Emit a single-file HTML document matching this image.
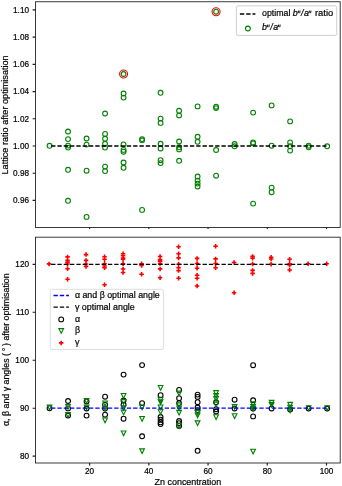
<!DOCTYPE html><html><head><meta charset="utf-8"><style>html,body{margin:0;padding:0;background:#fff;width:342px;height:486px;overflow:hidden}</style></head><body><svg width="342" height="486" viewBox="0 0 342 486" style="display:block;will-change:transform">
<rect width="342" height="486" fill="#fff"/>
<g fill="none" stroke="#008000" stroke-width="1.1"><circle cx="49.55" cy="145.8" r="2.4"/><circle cx="68.05" cy="131.5" r="2.4"/><circle cx="68.05" cy="139.1" r="2.4"/><circle cx="68.05" cy="145.6" r="2.4"/><circle cx="68.05" cy="147.6" r="2.4"/><circle cx="68.05" cy="169.8" r="2.4"/><circle cx="68.05" cy="200.8" r="2.4"/><circle cx="86.56" cy="138.5" r="2.4"/><circle cx="86.56" cy="144.6" r="2.4"/><circle cx="86.56" cy="170.7" r="2.4"/><circle cx="86.56" cy="216.9" r="2.4"/><circle cx="105.06" cy="113.5" r="2.4"/><circle cx="105.06" cy="133.9" r="2.4"/><circle cx="105.06" cy="138.8" r="2.4"/><circle cx="105.06" cy="143.8" r="2.4"/><circle cx="105.06" cy="147.6" r="2.4"/><circle cx="105.06" cy="166.6" r="2.4"/><circle cx="105.06" cy="171.1" r="2.4"/><circle cx="123.57" cy="74" r="2.4"/><circle cx="123.57" cy="93.5" r="2.4"/><circle cx="123.57" cy="97.6" r="2.4"/><circle cx="123.57" cy="144.4" r="2.4"/><circle cx="123.57" cy="149.9" r="2.4"/><circle cx="123.57" cy="151.7" r="2.4"/><circle cx="123.57" cy="162.5" r="2.4"/><circle cx="123.57" cy="167.8" r="2.4"/><circle cx="142.08" cy="139.1" r="2.4"/><circle cx="142.08" cy="140.3" r="2.4"/><circle cx="142.08" cy="209.9" r="2.4"/><circle cx="160.58" cy="92.8" r="2.4"/><circle cx="160.58" cy="118.6" r="2.4"/><circle cx="160.58" cy="122.9" r="2.4"/><circle cx="160.58" cy="143.8" r="2.4"/><circle cx="160.58" cy="148.5" r="2.4"/><circle cx="160.58" cy="160.2" r="2.4"/><circle cx="160.58" cy="163.1" r="2.4"/><circle cx="179.09" cy="110.8" r="2.4"/><circle cx="179.09" cy="115.4" r="2.4"/><circle cx="179.09" cy="141.5" r="2.4"/><circle cx="179.09" cy="147.3" r="2.4"/><circle cx="179.09" cy="149.4" r="2.4"/><circle cx="179.09" cy="160.8" r="2.4"/><circle cx="197.6" cy="106.4" r="2.4"/><circle cx="197.6" cy="136.8" r="2.4"/><circle cx="197.6" cy="141.8" r="2.4"/><circle cx="197.6" cy="176.5" r="2.4"/><circle cx="197.6" cy="180.6" r="2.4"/><circle cx="197.6" cy="183.6" r="2.4"/><circle cx="197.6" cy="186.5" r="2.4"/><circle cx="216.1" cy="11.7" r="2.4"/><circle cx="216.1" cy="106.7" r="2.4"/><circle cx="216.1" cy="108.1" r="2.4"/><circle cx="216.1" cy="150" r="2.4"/><circle cx="216.1" cy="175.7" r="2.4"/><circle cx="234.61" cy="144" r="2.4"/><circle cx="234.61" cy="146.3" r="2.4"/><circle cx="253.11" cy="112.6" r="2.4"/><circle cx="253.11" cy="142.4" r="2.4"/><circle cx="253.11" cy="143.4" r="2.4"/><circle cx="253.11" cy="203.6" r="2.4"/><circle cx="271.62" cy="105.4" r="2.4"/><circle cx="271.62" cy="145.7" r="2.4"/><circle cx="271.62" cy="187.6" r="2.4"/><circle cx="271.62" cy="192.2" r="2.4"/><circle cx="290.13" cy="121.4" r="2.4"/><circle cx="290.13" cy="142.4" r="2.4"/><circle cx="290.13" cy="146.3" r="2.4"/><circle cx="290.13" cy="150.6" r="2.4"/><circle cx="308.63" cy="145.7" r="2.4"/><circle cx="308.63" cy="147.3" r="2.4"/><circle cx="327.14" cy="146.3" r="2.4"/></g>
<g fill="none" stroke="#ff0000" stroke-width="1.1"><circle cx="123.57" cy="74" r="4.0"/><circle cx="216.1" cy="11.7" r="4.0"/></g>
<line x1="48.9" y1="146" x2="326.49" y2="146" stroke="#000" stroke-width="1.3" stroke-dasharray="4.35 1.96" stroke-dashoffset="-2.2"/>
<g fill="none" stroke="#000" stroke-width="1.1"><circle cx="49.55" cy="408.2" r="2.4"/><circle cx="68.05" cy="401" r="2.4"/><circle cx="68.05" cy="408.4" r="2.4"/><circle cx="68.05" cy="415.5" r="2.4"/><circle cx="86.56" cy="401.4" r="2.4"/><circle cx="86.56" cy="408.5" r="2.4"/><circle cx="86.56" cy="415.6" r="2.4"/><circle cx="105.06" cy="396.7" r="2.4"/><circle cx="105.06" cy="404.6" r="2.4"/><circle cx="105.06" cy="408.6" r="2.4"/><circle cx="105.06" cy="414.7" r="2.4"/><circle cx="123.57" cy="374.6" r="2.4"/><circle cx="123.57" cy="400.5" r="2.4"/><circle cx="123.57" cy="404.6" r="2.4"/><circle cx="123.57" cy="418.7" r="2.4"/><circle cx="142.08" cy="365.1" r="2.4"/><circle cx="142.08" cy="403.1" r="2.4"/><circle cx="142.08" cy="436.3" r="2.4"/><circle cx="160.58" cy="395.2" r="2.4"/><circle cx="160.58" cy="417" r="2.4"/><circle cx="160.58" cy="419.7" r="2.4"/><circle cx="160.58" cy="422.3" r="2.4"/><circle cx="160.58" cy="424.1" r="2.4"/><circle cx="179.09" cy="389.9" r="2.4"/><circle cx="179.09" cy="398.2" r="2.4"/><circle cx="179.09" cy="403.1" r="2.4"/><circle cx="179.09" cy="421" r="2.4"/><circle cx="179.09" cy="423.2" r="2.4"/><circle cx="179.09" cy="425.9" r="2.4"/><circle cx="197.6" cy="394.6" r="2.4"/><circle cx="197.6" cy="396.9" r="2.4"/><circle cx="197.6" cy="402.2" r="2.4"/><circle cx="197.6" cy="407.5" r="2.4"/><circle cx="197.6" cy="410.1" r="2.4"/><circle cx="197.6" cy="450.8" r="2.4"/><circle cx="216.1" cy="402.2" r="2.4"/><circle cx="216.1" cy="409.2" r="2.4"/><circle cx="216.1" cy="411.5" r="2.4"/><circle cx="234.61" cy="399.7" r="2.4"/><circle cx="234.61" cy="408.5" r="2.4"/><circle cx="253.11" cy="365.2" r="2.4"/><circle cx="253.11" cy="400.3" r="2.4"/><circle cx="253.11" cy="408.5" r="2.4"/><circle cx="253.11" cy="416.4" r="2.4"/><circle cx="271.62" cy="408.5" r="2.4"/><circle cx="290.13" cy="409.5" r="2.4"/><circle cx="308.63" cy="408.5" r="2.4"/><circle cx="327.14" cy="408.5" r="2.4"/></g>
<path fill="none" stroke="#008000" stroke-width="1.1" stroke-linejoin="miter" d="M47.2 405.15H51.9L49.55 409.85ZM65.7 404.65H70.4L68.05 409.35ZM65.7 412.65H70.4L68.05 417.35ZM84.21 398.65H88.91L86.56 403.35ZM84.21 405.15H88.91L86.56 409.85ZM102.72 401.05H107.41L105.06 405.75ZM102.72 406.25H107.41L105.06 410.95ZM102.72 418.05H107.41L105.06 422.75ZM121.22 393.55H125.92L123.57 398.25ZM121.22 399.65H125.92L123.57 404.35ZM121.22 405.85H125.92L123.57 410.55ZM121.22 410.15H125.92L123.57 414.85ZM121.22 431.05H125.92L123.57 435.75ZM139.73 404.95H144.43L142.08 409.65ZM139.73 416.45H144.43L142.08 421.15ZM139.73 448.85H144.43L142.08 453.55ZM158.23 385.55H162.93L160.58 390.25ZM158.23 397.25H162.93L160.58 401.95ZM158.23 399.85H162.93L160.58 404.55ZM158.23 405.05H162.93L160.58 409.75ZM158.23 409.45H162.93L160.58 414.15ZM176.74 391.05H181.44L179.09 395.75ZM176.74 402.85H181.44L179.09 407.55ZM176.74 405.95H181.44L179.09 410.65ZM176.74 410.35H181.44L179.09 415.05ZM176.74 423.55H181.44L179.09 428.25ZM195.25 410.35H199.95L197.6 415.05ZM195.25 413.05H199.95L197.6 417.75ZM195.25 420.85H199.95L197.6 425.55ZM213.75 390.65H218.45L216.1 395.35ZM213.75 393.65H218.45L216.1 398.35ZM213.75 396.65H218.45L216.1 401.35ZM213.75 402.15H218.45L216.1 406.85ZM213.75 414.75H218.45L216.1 419.45ZM232.26 404.45H236.96L234.61 409.15ZM232.26 413.75H236.96L234.61 418.45ZM250.76 401.75H255.46L253.11 406.45ZM250.76 404.45H255.46L253.11 409.15ZM250.76 406.65H255.46L253.11 411.35ZM250.76 449.25H255.46L253.11 453.95ZM269.27 400.35H273.97L271.62 405.05ZM269.27 402.65H273.97L271.62 407.35ZM287.78 402.35H292.48L290.13 407.05ZM287.78 405.25H292.48L290.13 409.95ZM287.78 408.05H292.48L290.13 412.75ZM306.28 405.75H310.98L308.63 410.45ZM324.79 405.75H329.49L327.14 410.45Z"/>
<path fill="none" stroke="#ff0000" stroke-width="1.6" d="M46.8 263.9H51.3M49.05 261.65V266.15M65.3 256.9H69.8M67.55 254.65V259.15M65.3 260.4H69.8M67.55 258.15V262.65M65.3 262.2H69.8M67.55 259.95V264.45M65.3 264H69.8M67.55 261.75V266.25M65.3 268.7H69.8M67.55 266.45V270.95M65.3 279.2H69.8M67.55 276.95V281.45M83.81 254.6H88.31M86.06 252.35V256.85M83.81 260.4H88.31M86.06 258.15V262.65M83.81 264H88.31M86.06 261.75V266.25M83.81 266.4H88.31M86.06 264.15V268.65M102.31 256.7H106.81M104.56 254.45V258.95M102.31 259.3H106.81M104.56 257.05V261.55M102.31 263.7H106.81M104.56 261.45V265.95M102.31 266H106.81M104.56 263.75V268.25M102.31 267.7H106.81M104.56 265.45V269.95M102.31 284.7H106.81M104.56 282.45V286.95M120.82 253.7H125.32M123.07 251.45V255.95M120.82 255.8H125.32M123.07 253.55V258.05M120.82 258H125.32M123.07 255.75V260.25M120.82 259.3H125.32M123.07 257.05V261.55M120.82 263.7H125.32M123.07 261.45V265.95M120.82 269H125.32M123.07 266.75V271.25M120.82 272.5H125.32M123.07 270.25V274.75M139.33 263.7H143.83M141.58 261.45V265.95M139.33 265.4H143.83M141.58 263.15V267.65M139.33 274.2H143.83M141.58 271.95V276.45M157.83 256.5H162.33M160.08 254.25V258.75M157.83 259.6H162.33M160.08 257.35V261.85M157.83 261.2H162.33M160.08 258.95V263.45M157.83 263.5H162.33M160.08 261.25V265.75M157.83 268.9H162.33M160.08 266.65V271.15M157.83 277.8H162.33M160.08 275.55V280.05M176.34 246.7H180.84M178.59 244.45V248.95M176.34 253.7H180.84M178.59 251.45V255.95M176.34 257.9H180.84M178.59 255.65V260.15M176.34 264.2H180.84M178.59 261.95V266.45M176.34 267.7H180.84M178.59 265.45V269.95M176.34 270.6H180.84M178.59 268.35V272.85M176.34 278.3H180.84M178.59 276.05V280.55M194.85 258.4H199.35M197.1 256.15V260.65M194.85 263.5H199.35M197.1 261.25V265.75M194.85 268.2H199.35M197.1 265.95V270.45M194.85 275.2H199.35M197.1 272.95V277.45M194.85 278.3H199.35M197.1 276.05V280.55M194.85 286H199.35M197.1 283.75V288.25M213.35 246.2H217.85M215.6 243.95V248.45M213.35 258.9H217.85M215.6 256.65V261.15M213.35 263.5H217.85M215.6 261.25V265.75M213.35 267.7H217.85M215.6 265.45V269.95M231.86 262.5H236.36M234.11 260.25V264.75M231.86 292.7H236.36M234.11 290.45V294.95M250.36 256.4H254.86M252.61 254.15V258.65M250.36 258.2H254.86M252.61 255.95V260.45M250.36 264H254.86M252.61 261.75V266.25M250.36 270.4H254.86M252.61 268.15V272.65M250.36 273.4H254.86M252.61 271.15V275.65M268.87 257.3H273.37M271.12 255.05V259.55M268.87 259H273.37M271.12 256.75V261.25M268.87 264.3H273.37M271.12 262.05V266.55M287.38 259.3H291.88M289.63 257.05V261.55M287.38 263.75H291.88M289.63 261.5V266M287.38 265H291.88M289.63 262.75V267.25M287.38 270H291.88M289.63 267.75V272.25M305.88 263.75H310.38M308.13 261.5V266M324.39 263.75H328.89M326.64 261.5V266"/>
<line x1="48.9" y1="264.3" x2="326.49" y2="264.3" stroke="#000" stroke-width="1.3" stroke-dasharray="4.35 1.96" stroke-dashoffset="-2.2"/>
<line x1="48.9" y1="408.2" x2="326.49" y2="408.2" stroke="#0000ff" stroke-width="1.3" stroke-dasharray="4.35 1.96" stroke-dashoffset="-2.2"/>
<g fill="none" stroke="#262626" stroke-width="0.9">
<rect x="35.5" y="1.75" width="304.7" height="225.75"/>
<rect x="35.5" y="237.2" width="304.7" height="225.8"/>
</g>
<path d="M89.61 227.5v1.4M89.61 463.0v2.6M148.83 227.5v1.4M148.83 463.0v2.6M208.05 227.5v1.4M208.05 463.0v2.6M267.27 227.5v1.4M267.27 463.0v2.6M326.49 227.5v1.4M326.49 463.0v2.6M35.5 200.44h-2.9M35.5 173.22h-2.9M35.5 146h-2.9M35.5 118.78h-2.9M35.5 91.56h-2.9M35.5 64.34h-2.9M35.5 37.12h-2.9M35.5 9.9h-2.9M35.5 456.18h-2.9M35.5 408.21h-2.9M35.5 360.24h-2.9M35.5 312.27h-2.9M35.5 264.3h-2.9" stroke="#1a1a1a" stroke-width="1.15" fill="none"/>
<g font-family='"Liberation Sans", sans-serif' font-size="8.2" fill="#000" stroke="#000" stroke-width="0.2"><text x="29.0" y="203.34" text-anchor="end">0.96</text><text x="29.0" y="176.12" text-anchor="end">0.98</text><text x="29.0" y="148.9" text-anchor="end">1.00</text><text x="29.0" y="121.68" text-anchor="end">1.02</text><text x="29.0" y="94.46" text-anchor="end">1.04</text><text x="29.0" y="67.24" text-anchor="end">1.06</text><text x="29.0" y="40.02" text-anchor="end">1.08</text><text x="29.0" y="12.8" text-anchor="end">1.10</text><text x="29.0" y="459.08" text-anchor="end">80</text><text x="29.0" y="411.11" text-anchor="end">90</text><text x="29.0" y="363.14" text-anchor="end">100</text><text x="29.0" y="315.17" text-anchor="end">110</text><text x="29.0" y="267.2" text-anchor="end">120</text><text x="89.61" y="474" text-anchor="middle">20</text><text x="148.83" y="474" text-anchor="middle">40</text><text x="208.05" y="474" text-anchor="middle">60</text><text x="267.27" y="474" text-anchor="middle">80</text><text x="326.49" y="474" text-anchor="middle">100</text></g>
<g font-family='"Liberation Sans", sans-serif' font-size="8.9" fill="#000" stroke="#000" stroke-width="0.2">
<text x="187.85" y="484.9" text-anchor="middle" textLength="66.6" lengthAdjust="spacingAndGlyphs">Zn concentration</text>
<text transform="translate(7.6 114.9) rotate(-90)" text-anchor="middle" textLength="119.2" lengthAdjust="spacingAndGlyphs">Lattice ratio after optimisation</text>
<text transform="translate(8.9 349.7) rotate(-90)" text-anchor="middle" textLength="152.8" lengthAdjust="spacingAndGlyphs">α, β and γ angles ( ° ) after optimisation</text>
</g>
<rect x="236.4" y="5.8" width="100.3" height="29.6" rx="1.6" fill="#fff" fill-opacity="0.8" stroke="#cacaca" stroke-width="0.9"/>
<line x1="239.9" y1="14" x2="255.4" y2="14" stroke="#000" stroke-width="1.3" stroke-dasharray="4.35 1.96"/>
<circle cx="247.9" cy="28.5" r="2.4" fill="none" stroke="#008000" stroke-width="1.1"/>
<g font-family='"Liberation Sans", sans-serif' font-size="8.9" fill="#000" stroke="#000" stroke-width="0.2">
<text x="262.0" y="15.6" textLength="28.4" lengthAdjust="spacingAndGlyphs">optimal</text>
<text x="292.7" y="15.6" font-style="italic">b</text><path d="M298.55 10.6L298.1 13.2M300.1 10.6L299.65 13.2" stroke-width="0.95" fill="none"/><text x="301.1" y="15.6" font-style="italic">/</text><text x="304" y="15.6" font-style="italic">a</text><path d="M309.45 10.6L309 13.2M311 10.6L310.55 13.2" stroke-width="0.95" fill="none"/>
<text x="315.0" y="15.6" textLength="18.2" lengthAdjust="spacingAndGlyphs">ratio</text>
<text x="261.9" y="29.6" font-style="italic">b</text><path d="M267.75 24.6L267.3 27.2M269.3 24.6L268.85 27.2" stroke-width="0.95" fill="none"/><text x="270.3" y="29.6" font-style="italic">/</text><text x="273.2" y="29.6" font-style="italic">a</text><path d="M278.65 24.6L278.2 27.2M280.2 24.6L279.75 27.2" stroke-width="0.95" fill="none"/>
</g>
<rect x="50.3" y="289.3" width="113.1" height="60.2" rx="1.6" fill="#fff" fill-opacity="0.8" stroke="#d6d6d6" stroke-width="0.8"/>
<line x1="53.5" y1="295.5" x2="68.9" y2="295.5" stroke="#0000ff" stroke-width="1.3" stroke-dasharray="4.35 1.96"/>
<line x1="53.5" y1="307.1" x2="68.9" y2="307.1" stroke="#000" stroke-width="1.3" stroke-dasharray="4.35 1.96"/>
<circle cx="61.2" cy="319.4" r="2.4" fill="none" stroke="#000" stroke-width="1.1"/>
<path d="M58.85 328.65H63.55L61.2 333.35Z" fill="none" stroke="#008000" stroke-width="1.1"/>
<path d="M58.95 342.9H63.45M61.2 340.65V345.15" fill="none" stroke="#ff0000" stroke-width="1.6"/>
<g font-family='"Liberation Sans", sans-serif' font-size="8.9" fill="#000" stroke="#000" stroke-width="0.2">
<text x="74.9" y="298.2" textLength="84.9" lengthAdjust="spacingAndGlyphs">α and β optimal angle</text>
<text x="74.9" y="309.8" textLength="59.9" lengthAdjust="spacingAndGlyphs">γ optimal angle</text>
<text x="74.9" y="321.6">α</text>
<text x="74.9" y="333.4">β</text>
<text x="74.9" y="345.2">γ</text>
</g>
</svg></body></html>
